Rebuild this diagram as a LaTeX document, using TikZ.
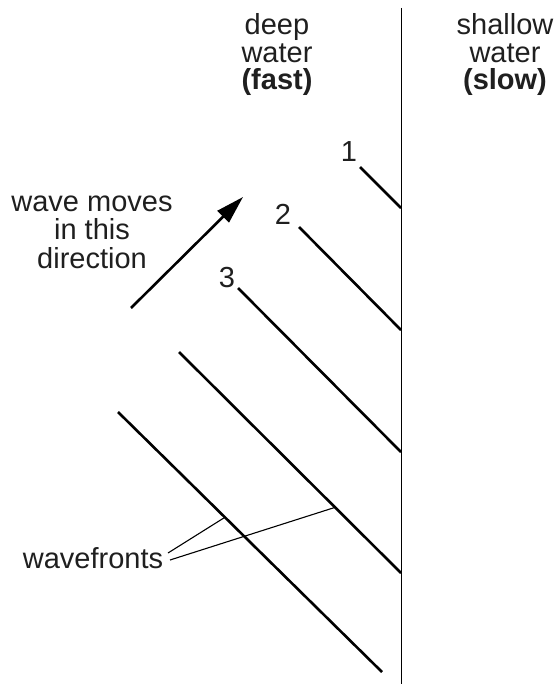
\documentclass[tikz,border=0pt]{standalone}
\usepackage{fontspec}
\setmainfont{Liberation Sans}
\usetikzlibrary{arrows.meta,calc}
\begin{document}
\begin{tikzpicture}[x=1pt,y=-1pt,
  lbl/.style={font=\fontsize{29}{27.5}\selectfont, text=black!88, inner sep=0pt, anchor=base},
  blbl/.style={lbl, font=\fontsize{29}{27.5}\selectfont\bfseries},
  front/.style={line width=2.6pt, line cap=butt},
  leader/.style={line width=1.1pt},
  boundary/.style={line width=1.4pt}]
\useasboundingbox (0,0) rectangle (558,684);
% boundary
\coordinate (btop) at (401.5,8);
\coordinate (bbot) at (401.5,684);
\draw[boundary] (btop) -- (bbot);
% header labels
\node[lbl]  (deep)   at (277,35) {deep};
\node[lbl]  (water1) at (277,63) {water};
\node[blbl] (fast)   at (277,90) {(fast)};
\node[lbl]  (shallow) at (505,35) {shallow};
\node[lbl]  (water2)  at (505,63) {water};
\node[blbl] (slow)    at (505,90) {(slow)};
% wavefronts
\coordinate (w1a) at (360,167); \coordinate (w1b) at (401,208);
\coordinate (w2a) at (299,227); \coordinate (w2b) at (401,330);
\coordinate (w3a) at (238,288); \coordinate (w3b) at (401,452);
\coordinate (w4a) at (179,352); \coordinate (w4b) at (401,573);
\coordinate (w5a) at (118,412); \coordinate (w5b) at (382,672);
\draw[front] (w1a) -- (w1b);
\draw[front] (w2a) -- (w2b);
\draw[front] (w3a) -- (w3b);
\draw[front] (w4a) -- (w4b);
\draw[front] (w5a) -- (w5b);
% numbers
\node[lbl] (n1) at (349,162) {1};
\node[lbl] (n2) at (283,225) {2};
\node[lbl] (n3) at (227,287) {3};
% direction arrow
\node[lbl] (wm1) at (92,212) {wave moves};
\node[lbl] (wm2) at (92,240) {in this};
\node[lbl] (wm3) at (92,268) {direction};
\coordinate (as) at (131,308);
\coordinate (ae) at (243,197);
\draw[line width=2.6pt, -{Triangle[length=28pt,width=16pt]}] (as) -- (ae);
% wavefronts label
\node[lbl] (wf) at (93,568) {wavefronts};
\coordinate (l1s) at (168,553);
\coordinate (l2s) at (170,560);
\coordinate (l1e) at ($(w5a)!0.405!(w5b)$);
\coordinate (l2e) at ($(w4a)!0.703!(w4b)$);
\draw[leader] (l1s) -- (l1e);
\draw[leader] (l2s) -- (l2e);
\end{tikzpicture}
\end{document}
